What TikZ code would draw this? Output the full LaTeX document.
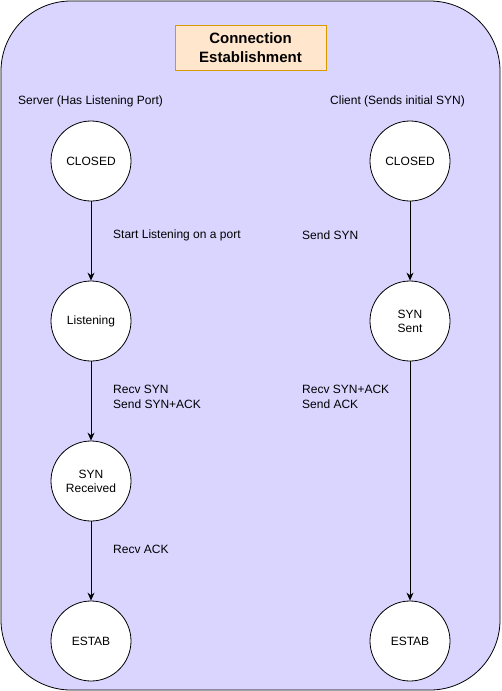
\documentclass[tikz,border=0pt]{standalone}
\usepackage{fontspec}
\setmainfont{Liberation Sans}
\usetikzlibrary{arrows.meta}
\definecolor{bgpurple}{HTML}{DAD5FF}
\definecolor{titlefill}{HTML}{FFE6CC}
\definecolor{titledraw}{HTML}{D79B00}
\tikzset{
  state/.style={circle, draw=black, fill=white, minimum size=80pt, inner sep=0pt, align=center, font=\fontsize{12}{14}\selectfont, line width=0.8pt},
  lbl/.style={anchor=west, align=left, font=\fontsize{12}{15}\selectfont, inner sep=0pt},
  flow/.style={draw=black, line width=0.8pt, -{Stealth[length=8pt,width=7pt]}}
}
\begin{document}
\begin{tikzpicture}[x=1pt,y=-1pt]
\useasboundingbox (0,0) rectangle (501,691);
\draw[fill=bgpurple, draw=black, line width=0.8pt, rounded corners=70pt] (1,1) rectangle (500,690);
\node[draw=titledraw, fill=titlefill, minimum width=151pt, minimum height=45pt, align=center, font=\fontsize{15}{19}\selectfont\bfseries, line width=0.8pt] (title) at (250.5,47.5) {Connection\\Establishment};
\node[lbl] (srv) at (18,101) {Server (Has Listening Port)};
\node[lbl] (cli) at (330,101) {Client (Sends initial SYN)};
\node[state] (sclosed) at (91,161) {CLOSED};
\node[state] (slisten) at (91,321) {Listening};
\node[state] (srecv) at (91,481) {SYN\\Received};
\node[state] (sestab) at (91,641) {ESTAB};
\node[state] (cclosed) at (410,161) {CLOSED};
\node[state] (csent) at (410,321) {SYN\\Sent};
\node[state] (cestab) at (410,641) {ESTAB};
\draw[flow] (sclosed) -- (slisten);
\draw[flow] (slisten) -- (srecv);
\draw[flow] (srecv) -- (sestab);
\draw[flow] (cclosed) -- (csent);
\draw[flow] (csent) -- (cestab);
\node[lbl] (l1) at (113,235) {Start Listening on a port};
\node[lbl] (l2) at (302,235) {Send SYN};
\node[lbl] (l3) at (113,396.5) {Recv SYN\\Send SYN+ACK};
\node[lbl] (l4) at (302,396.5) {Recv SYN+ACK\\Send ACK};
\node[lbl] (l5) at (113,549) {Recv ACK};
\end{tikzpicture}
\end{document}
